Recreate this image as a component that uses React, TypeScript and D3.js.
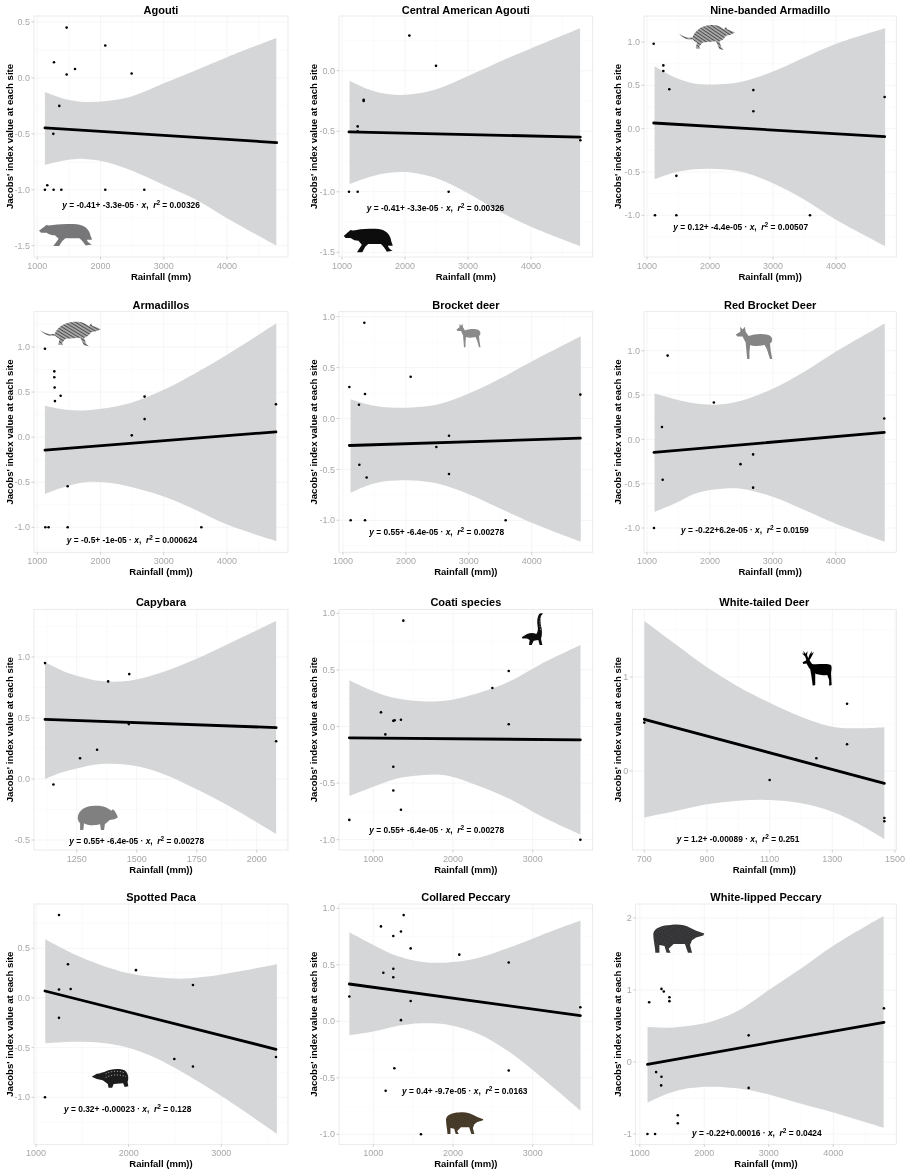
import React from 'react';
import * as d3 from 'd3';

type Point = [number, number];

// --- points (rainfall, Jacobs' index) ---
const agoutiPoints: Point[] = [[1464, 0.45], [2075, 0.29], [1264, 0.14], [1596, 0.08], [1464, 0.03], [2492, 0.04], [1348, -0.25], [1253, -0.5], [1121, -1], [1158, -0.96], [1258, -1], [1380, -1], [2075, -1], [2692, -1]];
const centralAgoutiPoints: Point[] = [[2069, 0.29], [2492, 0.04], [1344, -0.25], [1344, -0.24], [1249, -0.46], [1249, -0.5], [1111, -1], [1249, -1], [2693, -1], [4783, -0.575]];
const nineBandedPoints: Point[] = [[1106, 0.98], [1259, 0.73], [1259, 0.665], [1354, 0.455], [2688, 0.445], [2688, 0.2], [4772, 0.365], [1466, -0.545], [1127, -1], [1466, -1], [3587, -1]];
const armadilloPoints: Point[] = [[1121, 0.98], [1269, 0.73], [1269, 0.665], [1274, 0.55], [1369, 0.46], [1279, 0.4], [2697, 0.45], [2697, 0.2], [2494, 0.02], [4774, 0.365], [1480, -0.545], [1127, -1], [1179, -1], [1480, -1], [3594, -1]];
const brocketPoints: Point[] = [[1339, 0.94], [1101, 0.31], [1350, 0.24], [1254, 0.135], [2076, 0.41], [4773, 0.235], [2685, -0.17], [2484, -0.28], [1260, -0.455], [1376, -0.58], [2685, -0.545], [1122, -1], [1350, -1], [3586, -1]];
const redBrocketPoints: Point[] = [[1328, 0.945], [2063, 0.415], [1238, 0.14], [1249, -0.455], [1111, -1], [4772, 0.235], [2687, -0.17], [2486, -0.28], [2687, -0.545]];
const capybaraPoints: Point[] = [[1118, 0.95], [1381, 0.8], [1469, 0.86], [1467, 0.45], [1335, 0.24], [1264, 0.17], [1153, -0.045], [2081, 0.31]];
const coatiPoints: Point[] = [[1377, 0.935], [2699, 0.49], [2494, 0.34], [2699, 0.02], [1096, 0.125], [1251, 0.05], [1268, 0.055], [1347, 0.06], [1151, -0.07], [1251, -0.355], [1251, -0.565], [1347, -0.735], [699, -0.825], [3598, -1]];
const whiteTailedPoints: Point[] = [[700, 0.515], [1100, -0.095], [1249, 0.135], [1347, 0.715], [1347, 0.285], [1466, -0.5], [1466, -0.535]];
const pacaPoints: Point[] = [[1248, 0.835], [1345, 0.34], [1248, 0.085], [1374, 0.09], [1248, -0.2], [2079, 0.28], [2694, 0.13], [2493, -0.615], [2694, -0.69], [3590, -0.595], [1097, -1]];
const collaredPoints: Point[] = [[1381, 0.94], [1096, 0.84], [1251, 0.755], [1347, 0.795], [1469, 0.645], [2079, 0.59], [2699, 0.52], [1251, 0.465], [1126, 0.43], [1251, 0.39], [699, 0.22], [1469, 0.18], [1347, 0.01], [3598, 0.125], [1264, -0.415], [2699, -0.435], [1155, -0.615], [1598, -1]];
const whiteLippedPoints: Point[] = [[1336, 1.015], [1372, 0.98], [1459, 0.9], [1459, 0.845], [1145, 0.83], [1253, -0.14], [1336, -0.205], [1331, -0.325], [1589, -0.74], [1589, -0.85], [1119, -1], [1237, -1], [2688, 0.37], [2688, -0.36], [4785, 0.745]];

// --- fitted lines: [x0, y0], [x1, y1] ---
const fitLines: Point[][] = [
  [[1121, -0.447], [4785, -0.578]],
  [[1111, -0.506], [4783, -0.548]],
  [[1106, 0.065], [4772, -0.092]],
  [[1121, -0.144], [4774, 0.059]],
  [[1101, -0.265], [4773, -0.193]],
  [[1111, -0.147], [4772, 0.079]],
  [[1118, 0.489], [2081, 0.421]],
  [[699, -0.1], [3598, -0.118]],
  [[700, 0.55], [1466, -0.131]],
  [[1097, 0.07], [3590, -0.517]],
  [[699, 0.33], [3598, 0.05]],
  [[1119, -0.032], [4785, 0.551]],
];

// --- confidence bands read at a handful of rainfall values ---
const bandXWide = [1120, 1450, 1750, 2100, 2500, 3000, 3500, 4000, 4780];
const bandXCapybara = [1118, 1190, 1250, 1350, 1470, 1600, 1750, 1900, 2081];
const bandXMid = [700, 1000, 1300, 1600, 1900, 2300, 2700, 3100, 3600];
const bandXDeer = [700, 800, 900, 1000, 1100, 1200, 1300, 1400, 1466];
const bandXPaca = [1100, 1400, 1700, 2000, 2300, 2600, 2900, 3200, 3600];

const agoutiUpper = [-0.125, -0.19, -0.215, -0.206, -0.164, -0.048, 0.066, 0.185, 0.358];
const agoutiLower = [-0.778, -0.736, -0.724, -0.754, -0.829, -0.957, -1.085, -1.255, -1.499];
const centralUpper = [-0.083, -0.16, -0.195, -0.195, -0.154, -0.044, 0.074, 0.184, 0.35];
const centralLower = [-0.936, -0.875, -0.842, -0.84, -0.889, -1.013, -1.164, -1.288, -1.448];
const nineUpper = [0.72, 0.59, 0.52, 0.51, 0.54, 0.66, 0.82, 0.98, 1.16];
const nineLower = [-0.585, -0.504, -0.469, -0.465, -0.496, -0.63, -0.82, -1.05, -1.354];
const armadilloUpper = [0.347, 0.303, 0.296, 0.322, 0.384, 0.525, 0.71, 0.915, 1.264];
const armadilloLower = [-0.63, -0.547, -0.5, -0.503, -0.555, -0.658, -0.806, -0.97, -1.153];
const brocketUpper = [0.19, 0.131, 0.108, 0.108, 0.137, 0.245, 0.393, 0.56, 0.808];
const brocketLower = [-0.73, -0.645, -0.612, -0.609, -0.638, -0.743, -0.884, -1.025, -1.211];
const redUpper = [0.519, 0.451, 0.406, 0.391, 0.436, 0.571, 0.763, 0.989, 1.308];
const redLower = [-0.82, -0.722, -0.617, -0.564, -0.556, -0.647, -0.797, -0.951, -1.154];
const capybaraUpper = [0.956, 0.888, 0.847, 0.803, 0.806, 0.87, 0.985, 1.125, 1.295];
const capybaraLower = [0, 0.055, 0.087, 0.123, 0.115, 0.05, -0.085, -0.24, -0.451];
const coatiUpper = [0.409, 0.312, 0.247, 0.224, 0.227, 0.292, 0.395, 0.55, 0.719];
const coatiLower = [-0.616, -0.533, -0.459, -0.43, -0.43, -0.518, -0.636, -0.79, -0.954];
const deerUpper = [1.596, 1.348, 1.103, 0.897, 0.727, 0.578, 0.472, 0.454, 0.465];
const deerLower = [-0.496, -0.426, -0.355, -0.316, -0.309, -0.344, -0.433, -0.592, -0.723];
const pacaUpper = [0.591, 0.446, 0.332, 0.248, 0.208, 0.195, 0.22, 0.268, 0.339];
const pacaLower = [-0.456, -0.44, -0.45, -0.5, -0.607, -0.758, -0.926, -1.11, -1.369];
const collaredUpper = [0.788, 0.676, 0.578, 0.528, 0.519, 0.558, 0.65, 0.76, 0.891];
const collaredLower = [-0.124, -0.091, -0.041, -0.018, -0.027, -0.106, -0.268, -0.49, -0.79];
const lippedUpper = [0.486, 0.477, 0.5, 0.56, 0.7, 1.0, 1.3, 1.616, 2.028];
const lippedLower = [-0.565, -0.435, -0.366, -0.343, -0.366, -0.45, -0.58, -0.7, -0.912];

// --- labels ---
const titles = ['Agouti', 'Central American Agouti', 'Nine-banded Armadillo', 'Armadillos', 'Brocket deer', 'Red Brocket Deer', 'Capybara', 'Coati species', 'White-tailed Deer', 'Spotted Paca', 'Collared Peccary', 'White-lipped Peccary'];
const xLabels = ['Rainfall (mm)', 'Rainfall (mm)', 'Rainfall (mm))', 'Rainfall (mm))', 'Rainfall (mm))', 'Rainfall (mm))', 'Rainfall (mm))', 'Rainfall (mm))', 'Rainfall (mm))', 'Rainfall (mm))', 'Rainfall (mm))', 'Rainfall (mm))'];
const yLabel = "Jacobs' index value at each site";
const fitTerms = ['-0.41+ -3.3e-05', '-0.41+ -3.3e-05', '0.12+ -4.4e-05', '-0.5+ -1e-05', '0.55+ -6.4e-05', '-0.22+6.2e-05', '0.55+ -6.4e-05', '0.55+ -6.4e-05', '1.2+ -0.00089', '0.32+ -0.00023', '0.4+ -9.7e-05', '-0.22+0.00016'];
const rSquared = ['0.00326', '0.00326', '0.00507', '0.000624', '0.00278', '0.0159', '0.00278', '0.00278', '0.251', '0.128', '0.0163', '0.0424'];

const xTicksWide = [1000, 2000, 3000, 4000];
const xTicksCapybara = [1250, 1500, 1750, 2000];
const xTicksMid = [1000, 2000, 3000];
const xTicksDeer = [700, 900, 1100, 1300, 1500];
const yTickLabels = [
  ['0.5', '0.0', '-0.5', '-1.0', '-1.5'],
  ['0.0', '-0.5', '-1.0', '-1.5'],
  ['1.0', '0.5', '0.0', '-0.5', '-1.0'],
  ['1.0', '0.5', '0.0', '-0.5', '-1.0'],
  ['1.0', '0.5', '0.0', '-0.5', '-1.0'],
  ['1.0', '0.5', '0.0', '-0.5', '-1.0'],
  ['1.0', '0.5', '0.0', '-0.5'],
  ['1.0', '0.5', '0.0', '-0.5', '-1.0'],
  ['1', '0'],
  ['0.5', '0.0', '-0.5', '-1.0'],
  ['1.0', '0.5', '0.0', '-0.5', '-1.0'],
  ['2', '1', '0', '-1'],
];

// --- page layout of each panel, taken from the figure ---
const boxes = [
  [34, 288, 16, 257], [339, 592.7, 16, 257], [644, 896.3, 16, 257],
  [34, 288, 311.7, 552.3], [339, 592.7, 311.7, 552.3], [644, 896.3, 311.7, 552.3],
  [34, 288, 609.3, 850], [339, 592.7, 609.3, 850], [632.3, 896.3, 609.3, 850],
  [34, 288, 904, 1144.3], [339, 592.7, 904, 1144.3], [635.7, 896.3, 904, 1144.3],
];
// xv0, xv1 -> xp0, xp1 and yv0, yv1 -> yp0, yp1
const xCal = [
  [1000, 4000, 37.3, 227], [1000, 4000, 342, 531], [1000, 4000, 647, 836],
  [1000, 4000, 37.3, 227], [1000, 4000, 343, 531.7], [1000, 4000, 647, 835.7],
  [1250, 2000, 76.7, 256.7], [1000, 3000, 373.3, 532.7], [700, 1500, 644.3, 895],
  [1000, 3000, 36, 221.3], [1000, 3000, 373.3, 532.7], [1000, 4000, 639.8, 833.3],
];
const yCal = [
  [0.5, -1.5, 22, 245.7], [0, -1.5, 70.7, 252.3], [1, -1, 42, 215.3],
  [1, -1, 347, 527.3], [1, -1, 316.7, 520.3], [1, -1, 350.7, 528],
  [1, -0.5, 657, 840], [1, -1, 613.3, 839.7], [1, 0, 677, 771],
  [0.5, -1, 948.3, 1097.3], [1, -1, 908.3, 1134.3], [2, -1, 918, 1134],
];
const titleBaselines = [14, 14, 14, 309, 309, 309, 606, 606, 606, 901, 901, 901];
const yLabelCentres = [9.3, 313.3, 617.3];
const eqAnchors: Point[] = [
  [62.3, 208.3], [366.7, 211], [673.3, 230.3],
  [66.7, 543.3], [369.3, 535.3], [681, 532.7],
  [69.3, 844.3], [369.3, 832.7], [676.7, 842],
  [64, 1111.7], [402, 1093.7], [692, 1135.7],
];

// --- rough animal silhouettes, path drawn in its own w x h box ---
const rodentShape = { w: 100, h: 45, d: 'M0 15 L8 9 L14 4 L19 5 C30 3 45 1 62 2 C80 1 92 8 96 20 C97 27 100 30 100 33 L90 33 C92 38 96 41 100 42 L88 44 C84 38 80 33 76 30 C66 30 56 30 50 30 L44 35 L38 45 L27 45 L32 38 L37 31 L30 24 C24 24 20 23 14 19 L4 19 Z' };
const armadilloShape = { w: 100, h: 46, d: 'M0 16 C8 22 16 24 24 23 C28 10 42 0 58 0 C70 0 76 4 80 8 L84 3 L86 8 L90 9 L100 14 L92 18 L84 20 C80 26 76 30 72 30 L76 42 L80 46 L72 44 L66 30 L42 32 L36 40 L38 44 L30 43 L32 32 C28 30 26 28 24 26 C14 28 6 24 0 16 Z' };
const deerShape = { w: 100, h: 100, d: 'M2 30 L14 22 L14 8 L20 16 L26 8 L28 22 L36 34 C50 28 75 26 90 32 C100 38 100 50 92 56 L94 76 L98 100 L92 100 L84 72 L78 60 C62 64 48 64 40 60 L38 80 L38 100 L32 100 L30 76 L28 52 C24 46 22 40 20 36 L6 36 Z' };
const capybaraShape = { w: 100, h: 60, d: 'M0 30 C2 12 20 2 42 2 C60 0 76 6 84 14 L88 10 L92 14 C96 20 100 26 100 30 L92 34 L80 36 C74 42 70 44 68 46 L66 60 L58 60 L56 46 C42 50 26 50 16 44 L14 60 L6 60 L6 44 C2 40 0 36 0 30 Z' };
const coatiShape = { w: 65, h: 100, d: 'M0 72 L16 62 C26 58 36 58 44 62 C48 56 50 50 48 40 C46 28 46 14 52 4 C55 0 62 0 64 2 L60 6 C56 10 56 24 58 38 C62 52 62 68 58 76 L62 95 L54 95 L50 80 L36 82 L30 95 L22 95 L24 80 L16 76 L2 76 Z' };
const stagShape = { w: 100, h: 115, d: 'M6 38 L18 32 L14 20 L4 10 L10 12 L8 2 L15 12 L22 4 L20 16 L24 26 L28 14 L36 2 L34 12 L42 6 L36 18 L28 32 L36 44 C50 46 76 42 94 46 C100 50 98 62 96 72 L98 110 L90 112 L90 94 L84 78 C70 80 54 78 46 74 L46 110 L38 112 L34 82 L30 60 C24 54 22 46 18 42 L8 44 Z' };
const pacaShape = { w: 100, h: 55, d: 'M0 24 L14 16 C24 14 30 12 36 10 C52 2 74 0 90 6 C100 14 102 28 98 38 L100 50 L90 52 L86 42 L60 44 L56 54 L46 54 L44 44 L30 34 L14 30 Z' };
const peccaryShape = { w: 100, h: 60, d: 'M0 20 C2 8 18 2 34 2 C50 0 62 2 72 8 L84 14 L100 20 L98 24 L84 28 L76 34 L72 44 L76 60 L68 60 L62 42 L40 42 L30 52 L34 60 L26 60 L22 46 L12 44 L12 60 L4 60 C4 50 0 34 0 20 Z' };

const animals = [
  { shape: rodentShape, box: [39, 223, 53, 23], fill: '#77777a' },
  { shape: rodentShape, box: [343.7, 227.7, 49, 24.6], fill: '#111111' },
  { shape: armadilloShape, box: [679, 25, 56, 25], fill: 'url(#hatch)' },
  { shape: armadilloShape, box: [40, 321.7, 61, 24.5], fill: 'url(#hatch)' },
  { shape: deerShape, box: [456, 321.7, 25, 25.6], fill: '#8a8a8a' },
  { shape: deerShape, box: [735, 324, 38, 35], fill: '#858585' },
  { shape: capybaraShape, box: [77.7, 805, 40, 25], fill: '#808080' },
  { shape: coatiShape, box: [521.7, 613, 21.6, 33.7], fill: '#0c0c0c', detail: 'M60 8 C52 22 54 36 57 52' },
  { shape: stagShape, box: [800.7, 650, 31.6, 36.7], fill: '#060606' },
  { shape: pacaShape, box: [91.7, 1068, 36.6, 20], fill: '#1c1c1c', detail: 'M38 16 C54 8 74 6 90 14 M38 26 C54 18 74 16 94 24' },
  { shape: peccaryShape, box: [446, 1111.7, 37.3, 22.3], fill: 'url(#brownFur)' },
  { shape: peccaryShape, box: [653.3, 924, 51, 28.7], fill: 'url(#greyFur)' },
];

const panels = [
  { points: agoutiPoints, bandX: bandXWide, upper: agoutiUpper, lower: agoutiLower, xTicks: xTicksWide },
  { points: centralAgoutiPoints, bandX: bandXWide, upper: centralUpper, lower: centralLower, xTicks: xTicksWide },
  { points: nineBandedPoints, bandX: bandXWide, upper: nineUpper, lower: nineLower, xTicks: xTicksWide },
  { points: armadilloPoints, bandX: bandXWide, upper: armadilloUpper, lower: armadilloLower, xTicks: xTicksWide },
  { points: brocketPoints, bandX: bandXWide, upper: brocketUpper, lower: brocketLower, xTicks: xTicksWide },
  { points: redBrocketPoints, bandX: bandXWide, upper: redUpper, lower: redLower, xTicks: xTicksWide },
  { points: capybaraPoints, bandX: bandXCapybara, upper: capybaraUpper, lower: capybaraLower, xTicks: xTicksCapybara },
  { points: coatiPoints, bandX: bandXMid, upper: coatiUpper, lower: coatiLower, xTicks: xTicksMid },
  { points: whiteTailedPoints, bandX: bandXDeer, upper: deerUpper, lower: deerLower, xTicks: xTicksDeer },
  { points: pacaPoints, bandX: bandXPaca, upper: pacaUpper, lower: pacaLower, xTicks: xTicksMid },
  { points: collaredPoints, bandX: bandXMid, upper: collaredUpper, lower: collaredLower, xTicks: xTicksMid },
  { points: whiteLippedPoints, bandX: bandXWide, upper: lippedUpper, lower: lippedLower, xTicks: xTicksWide },
];

const FONT = '"Liberation Sans", Arial, sans-serif';

const Panel: React.FC<{ index: number }> = ({ index }) => {
  const p = panels[index];
  const [l, r, t, b] = boxes[index];
  const [xv0, xv1, xp0, xp1] = xCal[index];
  const [yv0, yv1, yp0, yp1] = yCal[index];
  const xScale = d3.scaleLinear().domain([xv0, xv1]).range([xp0, xp1]);
  const yScale = d3.scaleLinear().domain([yv0, yv1]).range([yp0, yp1]);

  const yLabels = yTickLabels[index];
  const yTicks = yLabels.map(Number);

  // minor grid sits halfway between the majors, out to the panel edge
  const minorOf = (ticks: number[], scale: d3.ScaleLinear<number, number>, lo: number, hi: number) => {
    const step = Math.abs(ticks[1] - ticks[0]);
    return ticks
      .flatMap((v) => [v - step / 2, v + step / 2])
      .filter((v, i, all) => all.indexOf(v) === i)
      .filter((v) => scale(v) > lo && scale(v) < hi);
  };
  const xMinor = minorOf(p.xTicks, xScale, l, r);
  const yMinor = minorOf(yTicks, yScale, t, b);

  const band = d3.area<number>()
    .x((d) => xScale(d))
    .y0((_, i) => yScale(p.lower[i]))
    .y1((_, i) => yScale(p.upper[i]))
    .curve(d3.curveCatmullRom.alpha(0.5));
  const fit = d3.line<Point>()
    .x((d) => xScale(d[0]))
    .y((d) => yScale(d[1]));

  const [eqX, eqY] = eqAnchors[index];
  const animal = animals[index];
  const [ax, ay, aw, ah] = animal.box;

  return (
    <g fontFamily={FONT}>
      <rect x={l} y={t} width={r - l} height={b - t} fill="#fff" />
      {xMinor.map((v) => <line key={`xm${v}`} x1={xScale(v)} x2={xScale(v)} y1={t} y2={b} stroke="#f8f8f8" strokeWidth={0.6} />)}
      {yMinor.map((v) => <line key={`ym${v}`} x1={l} x2={r} y1={yScale(v)} y2={yScale(v)} stroke="#f8f8f8" strokeWidth={0.6} />)}
      {p.xTicks.map((v) => <line key={`xg${v}`} x1={xScale(v)} x2={xScale(v)} y1={t} y2={b} stroke="#f1f1f1" strokeWidth={0.7} />)}
      {yTicks.map((v) => <line key={`yg${v}`} x1={l} x2={r} y1={yScale(v)} y2={yScale(v)} stroke="#f1f1f1" strokeWidth={0.7} />)}

      <path d={band(p.bandX) ?? ''} fill="#d5d6d7" />
      <path d={fit(fitLines[index]) ?? ''} fill="none" stroke="#000" strokeWidth={2.8} strokeLinecap="round" />
      {p.points.map((d, i) => <circle key={i} cx={xScale(d[0])} cy={yScale(d[1])} r={1.3} fill="#000" />)}

      <rect x={l} y={t} width={r - l} height={b - t} fill="none" stroke="#e6e6e6" strokeWidth={0.8} />

      {p.xTicks.map((v) => (
        <g key={`xt${v}`}>
          <line x1={xScale(v)} x2={xScale(v)} y1={b} y2={b + 2.5} stroke="#bbb" strokeWidth={0.7} />
          <text x={xScale(v)} y={b + 11.5} fontSize={9} fill="#a8a8a8" textAnchor="middle">{v}</text>
        </g>
      ))}
      {yTicks.map((v, i) => (
        <g key={`yt${v}`}>
          <line x1={l - 2.5} x2={l} y1={yScale(v)} y2={yScale(v)} stroke="#bbb" strokeWidth={0.7} />
          <text x={l - 4} y={yScale(v)} dy="0.35em" fontSize={9} fill="#a8a8a8" textAnchor="end">{yLabels[i]}</text>
        </g>
      ))}

      <text x={(l + r) / 2} y={titleBaselines[index]} fontSize={11} fontWeight="bold" fill="#000" textAnchor="middle">{titles[index]}</text>
      <text x={(l + r) / 2} y={b + 23} fontSize={9.5} fontWeight="bold" fill="#000" textAnchor="middle">{xLabels[index]}</text>
      <text
        transform={`translate(${yLabelCentres[index % 3]}, ${(t + b) / 2}) rotate(-90)`}
        dy="0.35em"
        fontSize={9.6}
        fontWeight="bold"
        fill="#000"
        textAnchor="middle"
      >
        {yLabel}
      </text>

      <text x={eqX} y={eqY} fontSize={8.4} fontWeight="bold" fill="#000">
        <tspan fontStyle="italic">y</tspan>
        <tspan> = {fitTerms[index]} · </tspan>
        <tspan fontStyle="italic">x</tspan>
        <tspan>,{'\u00a0\u00a0'}</tspan>
        <tspan fontStyle="italic">r</tspan>
        <tspan dy={-3} fontSize={6.5}>2</tspan>
        <tspan dy={3}> = {rSquared[index]}</tspan>
      </text>

      <g transform={`translate(${ax}, ${ay}) scale(${aw / animal.shape.w}, ${ah / animal.shape.h})`}>
        <path d={animal.shape.d} fill={animal.fill} />
        {animal.detail && <path d={animal.detail} fill="none" stroke="#ddd" strokeWidth={2} strokeDasharray="3 5" />}
      </g>
    </g>
  );
};

const App: React.FC = () => (
  <svg
    width={907}
    height={1172}
    viewBox="0 0 907 1172"
    style={{ position: 'absolute', left: 0, top: 0, background: '#fff' }}
  >
    <defs>
      <filter id="soft" x="-2%" y="-2%" width="104%" height="104%">
        <feGaussianBlur stdDeviation="0.25" />
      </filter>
      <pattern id="hatch" width={5} height={5} patternUnits="userSpaceOnUse" patternTransform="rotate(35)">
        <rect width={5} height={5} fill="#a6a6a6" />
        <line x1={0} x2={5} y1={2.5} y2={2.5} stroke="#3a3a3a" strokeWidth={1.4} />
      </pattern>
      <pattern id="brownFur" width={6} height={6} patternUnits="userSpaceOnUse" patternTransform="rotate(20)">
        <rect width={6} height={6} fill="#3f3424" />
        <circle cx={2} cy={2} r={1.1} fill="#8a7558" />
      </pattern>
      <pattern id="greyFur" width={5} height={5} patternUnits="userSpaceOnUse" patternTransform="rotate(20)">
        <rect width={5} height={5} fill="#333335" />
        <circle cx={2} cy={2} r={0.8} fill="#6a6a6c" />
      </pattern>
    </defs>
    <g filter="url(#soft)">
      {panels.map((_, i) => <Panel key={i} index={i} />)}
    </g>
  </svg>
);

export default App;
